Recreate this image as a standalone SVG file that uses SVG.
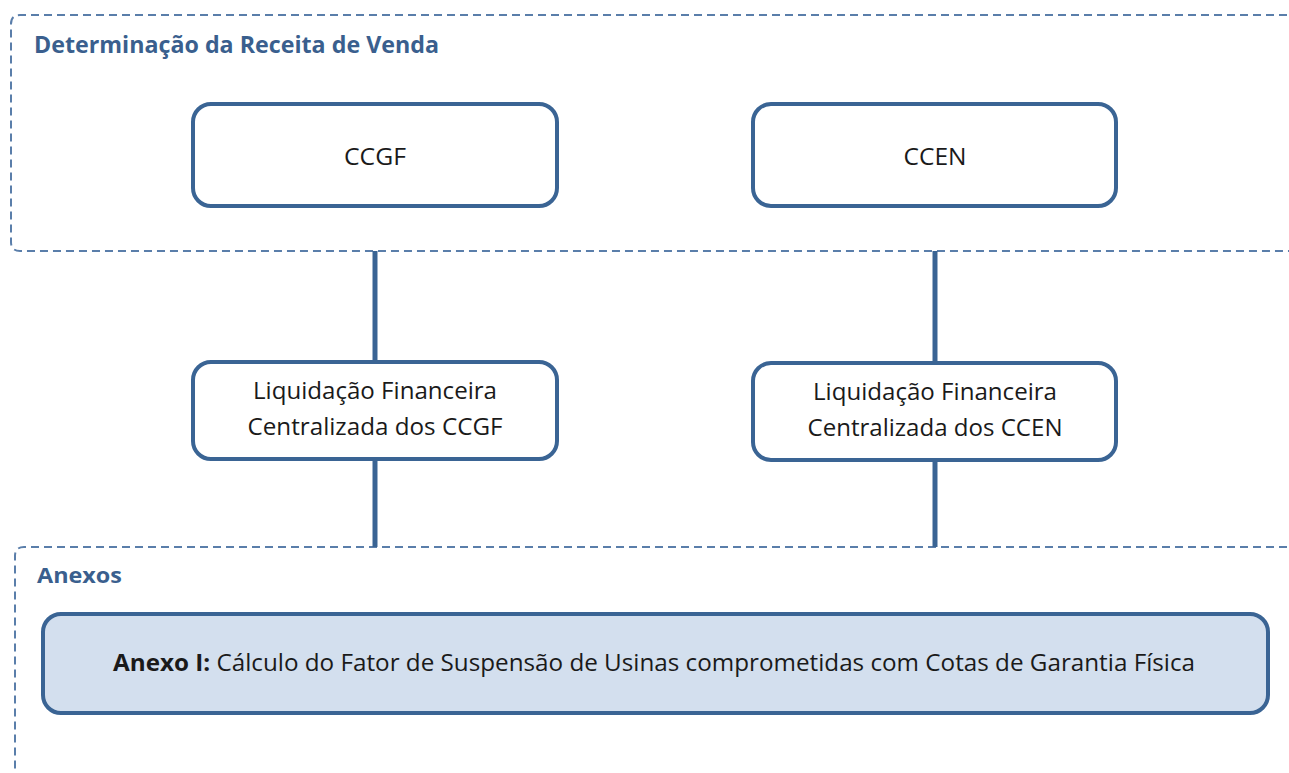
<svg xmlns="http://www.w3.org/2000/svg" width="1289" height="773" viewBox="0 0 1289 773">
<style>
.frame{fill:none;stroke:#5a7eaa;stroke-width:2;stroke-dasharray:8 5}
.node{fill:#ffffff;stroke:#3a6494;stroke-width:4}
.annex{fill:#d3dfee;stroke:#3a6494;stroke-width:4}
.conn{stroke:#3a6494;stroke-width:5;fill:none}
.title{font-family:"Open Sans","Noto Sans",sans-serif;font-weight:bold;fill:#3a5f8e}
.lbl{font-family:"Open Sans","Noto Sans",sans-serif;fill:#1a1a1a;font-size:23px;text-anchor:middle}
</style>
<rect width="1289" height="773" fill="#ffffff"/>
<g id="frame-receita">
<path class="frame" d="M1300 15 H20 Q11 15 11 24 V242 Q11 251 20 251 H1300"/>
<text class="title" x="34" y="53" font-size="23" textLength="405" lengthAdjust="spacingAndGlyphs">Determinação da Receita de Venda</text>
</g>
<g id="frame-anexos">
<path class="frame" d="M1300 547 H24 Q15 547 15 556 V780"/>
<text class="title" x="37" y="583" font-size="22" textLength="85" lengthAdjust="spacingAndGlyphs">Anexos</text>
</g>
<g id="connectors">
<line class="conn" x1="375" y1="251" x2="375" y2="361"/>
<line class="conn" x1="375" y1="460" x2="375" y2="547"/>
<line class="conn" x1="935" y1="251" x2="935" y2="362"/>
<line class="conn" x1="935" y1="461" x2="935" y2="547"/>
</g>
<g id="node-ccgf">
<rect class="node" x="193" y="104" width="364" height="102" rx="18"/>
<text class="lbl" x="375" y="165" textLength="62" lengthAdjust="spacingAndGlyphs">CCGF</text>
</g>
<g id="node-ccen">
<rect class="node" x="753" y="104" width="363" height="102" rx="18"/>
<text class="lbl" x="935" y="165" textLength="63" lengthAdjust="spacingAndGlyphs">CCEN</text>
</g>
<g id="node-liq-ccgf">
<rect class="node" x="193" y="362" width="364" height="97" rx="18"/>
<text class="lbl" x="375" y="399" textLength="244" lengthAdjust="spacingAndGlyphs">Liquidação Financeira</text>
<text class="lbl" x="375" y="435" textLength="255" lengthAdjust="spacingAndGlyphs">Centralizada dos CCGF</text>
</g>
<g id="node-liq-ccen">
<rect class="node" x="753" y="363" width="363" height="97" rx="18"/>
<text class="lbl" x="935" y="400" textLength="244" lengthAdjust="spacingAndGlyphs">Liquidação Financeira</text>
<text class="lbl" x="935" y="436" textLength="255" lengthAdjust="spacingAndGlyphs">Centralizada dos CCEN</text>
</g>
<g id="node-anexo1">
<rect class="annex" x="43" y="614" width="1225" height="99" rx="18"/>
<text class="lbl" x="654" y="671" textLength="1082" lengthAdjust="spacingAndGlyphs"><tspan font-weight="bold">Anexo I:</tspan> Cálculo do Fator de Suspensão de Usinas comprometidas com Cotas de Garantia Física</text>
</g>
</svg>
